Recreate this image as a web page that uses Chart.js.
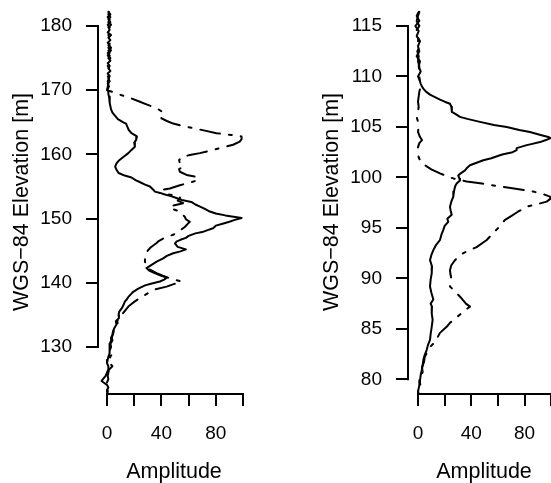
<!DOCTYPE html>
<html><head><meta charset="utf-8">
<script src="https://cdn.jsdelivr.net/npm/chart.js@4.4.1/dist/chart.umd.min.js"></script>
<style>
html,body{margin:0;padding:0;background:#fff;overflow:hidden;width:551px;height:483px;position:relative}
#c1{position:absolute;left:0;top:0}
#c2{position:absolute;left:310px;top:0}
</style></head><body>
<canvas id="c1" width="275" height="483"></canvas>
<canvas id="c2" width="260" height="483"></canvas>
<script>
// ---- data ----
const leftSolidElev = [182.2,181.8,181.4,181,180.6,180.2,179.8,179.4,179,178.6,178.2,177.8,177.4,177,176.6,176.2,175.8,175.4,175,174.6,174.2,173.8,173.4,173,172.6,172.2,171.8,171.4,171,170.6,170.2,169.8,169.4,169,168.5,168,167.5,167,166.5,166,165.5,165,164.8,164.3,163.8,163.3,162.8,162.3,161.8,161.2,160.7,160.2,159.6,159.1,158.6,158.1,157.6,157.1,156.7,156.4,156,155.7,155.3,155,154.5,154.2,154,153.8,153.5,153.2,152.9,152.6,152.2,151.9,151.5,151.1,150.8,150.5,150.3,150.1,149.8,149.5,149.2,148.9,148.5,148.2,147.9,147.7,147.3,147,146.7,146.4,146.1,145.6,145.2,144.9,144.6,144.2,143.8,143.3,142.8,142.3,141.9,141.5,141.1,140.8,140.5,140.2,139.9,139.6,139.1,138.6,138.2,137.8,137.4,137.1,136.5,136,135.5,135,134.5,134,133.5,133,132.5,132,131.5,131,130.5,130,129.5,129,128.5,128,127.5,127,126.5,126,125.5,125,124.7,124.4,124.1,123.7,123.3,122.9];
const leftSolidAmp = [1,2.5,0.5,2,1,3,1,2,0.5,3,1,2.5,0.5,2,1,3,0.5,2,1,2.5,0.5,2,1,2.5,0.5,2,1,2,0.5,1.5,0.5,1,1,1.5,2,2,2.5,3,4,6,8,12,14,15,16,18,22,21.5,20,20.5,18,15.7,12,9,7,6,7,8.5,13,18,21,24,28,31.6,34,35.2,39,42,47,51,55,62,65,68,72,75.6,80,87,93,99,94,90,85,80,78,74,70,65,60,58,54,51,50,52,58,54,48.7,44,41.3,36.5,32.8,29,31,35,40,44,42,38.9,33,28,23,19.3,17.5,15.7,14.5,13.2,12,10.8,9,8.5,8.8,6.5,7,5.5,4.5,4,3.4,3,2,2.2,1.5,2,1,0.5,0,1,1,0,-1,-3,-4,-2,0,1,0,0.5];

const leftDashElev = [182.2,181.8,181.4,181,180.6,180.2,179.8,179.4,179,178.6,178.2,177.8,177.4,177,176.6,176.2,175.8,175.4,175,174.6,174.2,173.8,173.4,173,172.6,172.2,171.8,171.4,171,170.5,170,169.6,169.3,168.8,168.2,167.8,167.4,167,166.6,166.3,166,165.6,165.2,164.8,164.4,164.1,163.7,163.3,163,162.8,162.4,162,161.5,161.1,160.7,160.2,159.9,159.6,159.1,158.6,158.1,157.7,157.3,156.8,156.5,156,155.6,155.2,154.7,154.5,153.9,153.4,153.2,152.8,152.4,151.9,151.5,151.1,150.7,150.3,149.9,149.5,149.1,148.7,148.2,147.7,147.2,146.9,146.5,146.2,145.5,144.8,144,143.3,142.5,142,141.5,141.1,140.7,140.2,139.8,139.4,138.9,138.5,138.1,137.6,137.1,136.7,136.3,135.6,135,134.5,134,133.5,133,132.5,132,131.5,131,130.5,130,129.5,129,128.5,128,127.5,127,126.5,126,125.5,125,124.5,124,123.5,123];
const leftDashAmp = [1.5,1,2.5,1,2.5,0.5,2,1,3,1,2,0.5,2.5,1,3,1,2,0.5,2.5,1,2,0.5,1.5,1,2,0.5,1.5,0.5,1,0.5,0,6,9.5,17,24.2,29,34,38,41,40,39,40.1,44,48.7,56,63.3,72,80.5,92.7,98.9,99,97.6,92.7,85,78,68.3,60.9,54.8,53,53.6,56,53,53.6,58.5,65.8,67,60.9,53.6,46.2,41.3,42.6,53.6,53.6,52,56,46.2,48,53.6,55,57.2,58,60.9,59,57.2,54,51.1,45,41.3,38,36.5,32,29.1,28,27.9,29.1,32,36.5,41,46.2,54.8,49,43.8,34,31,27.9,24,20.5,18,15.7,13,10.8,9,7.5,8,6,5,4.5,3.5,4,2.5,3,2,5,2,3.5,2,4,1.5,1,0.5,1,0,1,0.5,0];

const rightSolidElev = [116.4,116,115.5,115,114.5,114,113.5,113,112.5,112,111.5,111,110.5,110,109.7,109.3,109,108.8,108.5,108.2,108,107.7,107.5,107.3,107,106.7,106.5,106.3,106,105.8,105.5,105.2,105,104.7,104.5,104.2,104,103.9,103.7,103.5,103.3,103.2,102.9,102.7,102.5,102.3,102.2,101.9,101.7,101.4,101.2,100.9,100.7,100.4,100.2,99.9,99.7,99.4,99.1,98.6,98.1,97.6,97.1,96.7,96.3,95.9,95.6,95.2,94.8,94.3,93.8,93.3,92.8,92.3,91.8,91.2,90.5,89.9,89.2,88.6,87.9,87.5,87.2,86.5,85.9,85.2,84.5,83.9,83.4,82.9,82.4,81.9,81.4,80.9,80.4,79.9,79.4,78.9,78.6];
const rightSolidAmp = [0.5,-1,1,-2,0.5,-1,1.5,0,1,-1,1.5,0.5,2,0,1,2,3,4,6,9,12,16.5,20,24,25,25.5,25.3,28,31.5,37,46.5,57,66.6,76,84,92,97.8,99.5,96,91.6,85,81.6,74.1,74,71,64,61.5,55,49,43,39,36.5,35.3,32,30.2,31,31.5,29,27.8,27,26.5,25,24,24.5,25.3,22,22.7,20,19,17.5,16.5,13.5,11.5,10,9,10.5,10.3,9.5,9,10,11.5,9.5,10.5,10.3,11,10.3,9.5,9,7.5,6.5,5,4,3.5,2.8,2,1.5,1,0.2,0];

const rightDashElev = [116.4,116,115.5,115,114.5,114,113.5,113,112.5,112,111.5,111,110.5,110,109.5,109,108.5,108,107.5,107,106.5,106,105.5,105,104.5,104,103.7,103.4,103,102.5,102,101.7,101.4,101.1,100.8,100.4,100.1,99.9,99.6,99.4,99.1,98.9,98.6,98.3,98.1,97.9,97.6,97.3,97.1,96.6,96.1,95.8,95.6,95.1,94.5,93.8,93.1,92.5,92.1,91.8,91.3,90.8,90.3,89.8,89.2,88.7,88,87.5,87.2,86.7,86,85.6,85.2,84.6,83.7,83.2,82.7,82.2,81.7,81.2,80.7,80.2,79.7,79.2,78.8,78.6];
const rightDashAmp = [1,0,-1,1,-1.5,0.5,0,1.5,-0.5,0.5,0,1,0.5,1,1.5,2,1,0.5,0,0.5,0,-1,0,0.5,0,1.5,3,1,0,0,0.5,1.5,3,6.5,10,16.5,22,26.5,36.5,48,61.5,72,86.5,95,99,99.5,96.6,88,81.6,75,69,65.3,64,61,56.5,51.6,44,34,30,27.8,25,24,24.5,25.3,24,27.8,32.8,36,39,34,27.8,24,21.5,16.5,12.8,9,7,5,4.5,3,3.5,2,1.5,2,1,0.5];

const leftYTicks = [130,140,150,160,170,180];
const rightYTicks = [80,85,90,95,100,105,110,115];
const xTicks = [0,20,40,60,80,100];
const xTickLabels = ['0','','40','','80',''];

// ---- drawing ----
const FONT = "'Liberation Sans', Arial, Helvetica, sans-serif";
const pts = (e,a) => e.map((v,i)=>({x:a[i], y:v}));

const axisLines = {
  id:'axisLines',
  afterDraw(chart){
    const ctx = chart.ctx, xs = chart.scales.x, ys = chart.scales.y, ca = chart.chartArea;
    ctx.save();
    ctx.strokeStyle = '#000'; ctx.lineWidth = 2; ctx.lineCap = 'butt';
    ctx.beginPath();
    ctx.moveTo(ca.left, ys.getPixelForValue(ys.ticks[0].value) + 1);
    ctx.lineTo(ca.left, ys.getPixelForValue(ys.ticks[ys.ticks.length-1].value) - 1);
    ctx.moveTo(xs.getPixelForValue(xs.ticks[0].value) - 1, ca.bottom);
    ctx.lineTo(xs.getPixelForValue(xs.ticks[xs.ticks.length-1].value) + 1, ca.bottom);
    ctx.stroke();
    ctx.restore();
  }
};

function makeChart(id, sE, sA, dE, dA, yTicks, yMin, yMax, xMin, xMax, padRight){
  return new Chart(document.getElementById(id), {
    type:'scatter',
    data:{datasets:[
      {data:pts(sE,sA), showLine:true, borderColor:'#000', borderWidth:2, pointRadius:0, tension:0, borderCapStyle:'round', borderJoinStyle:'round'},
      {data:pts(dE,dA), showLine:true, borderColor:'#000', borderWidth:2, pointRadius:0, tension:0, borderDash:[20,9,3,9], borderCapStyle:'round', borderJoinStyle:'round'}
    ]},
    options:{
      responsive:false, animation:false, devicePixelRatio:1,
      layout:{padding:{top:10,left:0,right:padRight,bottom:0}},
      plugins:{legend:{display:false}, tooltip:{enabled:false}},
      scales:{
        x:{type:'linear', position:'bottom', min:xMin, max:xMax,
          afterBuildTicks:s=>{ s.ticks = xTicks.map(v=>({value:v})); },
          afterFit:s=>{ s.height = 89; s.paddingLeft = 0; s.paddingRight = 0; },
          grid:{display:true, drawOnChartArea:false, drawTicks:true, tickLength:12, lineWidth:2, color:'#000'},
          border:{display:false},
          ticks:{autoSkip:false, maxRotation:0, color:'#000', padding:18, font:{family:FONT, size:19, lineHeight:1},
            callback:(v,i)=>xTickLabels[i]},
          title:{display:true, text:'Amplitude', color:'#000', font:{family:FONT, size:21.5, lineHeight:1}, padding:{top:0,bottom:0}}
        },
        y:{type:'linear', position:'left', min:yMin, max:yMax,
          afterBuildTicks:s=>{ s.ticks = yTicks.map(v=>({value:v})); },
          afterFit:s=>{ s.width = 98; s.paddingTop = 0; s.paddingBottom = 0; },
          grid:{display:true, drawOnChartArea:false, drawTicks:true, tickLength:12, lineWidth:2, color:'#000'},
          border:{display:false},
          ticks:{autoSkip:false, color:'#000', padding:14, font:{family:FONT, size:19, lineHeight:1},
            callback:v=>String(v)},
          title:{display:true, text:'WGS\u221284 Elevation [m]', color:'#000', font:{family:FONT, size:21.5, lineHeight:1}, padding:{top:11,bottom:0}}
        }
      }
    },
    plugins:[axisLines]
  });
}

makeChart('c1', leftSolidElev, leftSolidAmp, leftDashElev, leftDashAmp, leftYTicks,
  180 - 368/6.42, 180 + 16/6.42, -9/1.36, 143/1.36, 25);
makeChart('c2', rightSolidElev, rightSolidAmp, rightDashElev, rightDashAmp, rightYTicks,
  80 - 14.7/10.0943, 115 + 16/10.0943, -10/1.3325, 142/1.3325, 10);
</script>
</body></html>
